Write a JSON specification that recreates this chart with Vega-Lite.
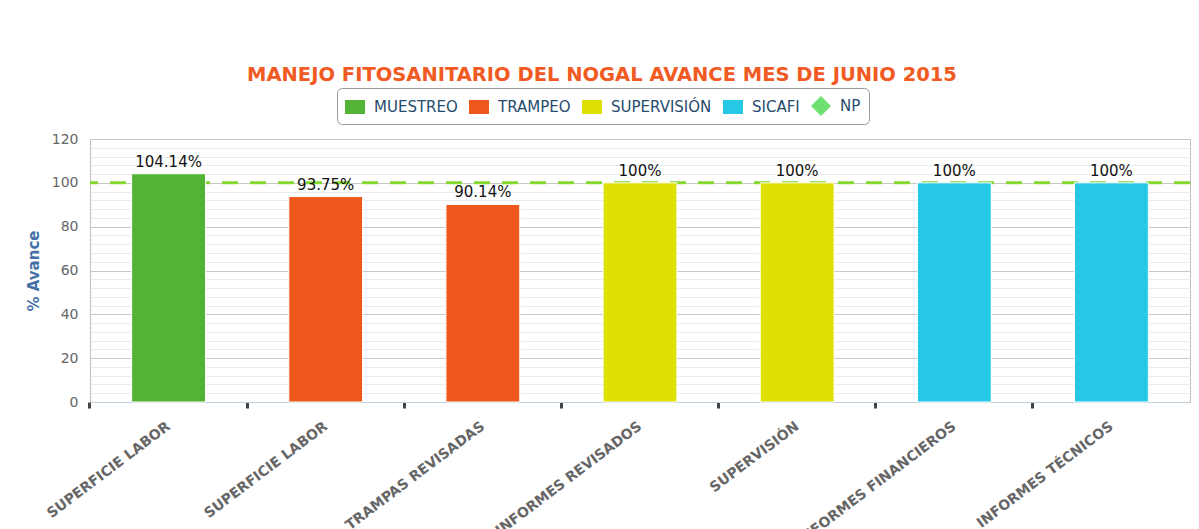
{
  "$schema": "https://vega.github.io/schema/vega-lite/v6.json",
  "width": 1100,
  "height": 263,
  "autosize": {"type": "none"},
  "padding": {"left": 90, "top": 139, "right": 9, "bottom": 127},
  "background": "white",
  "title": {
    "text": "MANEJO FITOSANITARIO DEL NOGAL AVANCE MES DE JUNIO 2015",
    "anchor": "middle",
    "dx": -38,
    "offset": 2,
    "font": "DejaVu Sans",
    "fontSize": 19.5,
    "fontWeight": "bold",
    "color": "#F15A22"
  },
  "datasets": {
    "barras": [
      {"categoria": "SUPERFICIE LABOR", "serie": "MUESTREO", "valor": 104.14, "etiqueta": "104.14%"},
      {"categoria": "SUPERFICIE LABOR ", "serie": "TRAMPEO", "valor": 93.75, "etiqueta": "93.75%"},
      {"categoria": "TRAMPAS REVISADAS", "serie": "TRAMPEO", "valor": 90.14, "etiqueta": "90.14%"},
      {"categoria": "INFORMES REVISADOS", "serie": "SUPERVISIÓN", "valor": 100, "etiqueta": "100%"},
      {"categoria": "SUPERVISIÓN", "serie": "SUPERVISIÓN", "valor": 100, "etiqueta": "100%"},
      {"categoria": "INFORMES FINANCIEROS", "serie": "SICAFI", "valor": 100, "etiqueta": "100%"},
      {"categoria": "INFORMES TÉCNICOS", "serie": "SICAFI", "valor": 100, "etiqueta": "100%"}
    ],
    "np": [
      {"serie": "NP", "valor": 100}
    ]
  },
  "layer": [
    {
      "data": {"name": "np"},
      "mark": {"type": "rule", "color": "#82D82E", "strokeWidth": 3, "strokeDash": [16, 12]},
      "encoding": {
        "y": {
          "field": "valor",
          "type": "quantitative",
          "scale": {"domain": [0, 120], "nice": false},
          "axis": {
            "orient": "right",
            "values": [4, 8, 12, 16, 24, 28, 32, 36, 44, 48, 52, 56, 64, 68, 72, 76, 84, 88, 92, 96, 104, 108, 112, 116],
            "grid": true,
            "gridColor": "#EBEBEB",
            "gridWidth": 1,
            "labels": false,
            "ticks": false,
            "domain": false,
            "title": null
          }
        }
      }
    },
    {
      "data": {"name": "barras"},
      "mark": {"type": "bar", "stroke": "white", "strokeWidth": 1},
      "encoding": {
        "x": {
          "field": "categoria",
          "type": "nominal",
          "sort": null,
          "scale": {"paddingInner": 0.53, "paddingOuter": 0.265},
          "axis": {
            "title": null,
            "grid": false,
            "labelAngle": -37,
            "labelAlign": "right",
            "labelBaseline": "top",
            "labelFont": "DejaVu Sans",
            "labelFontSize": 14,
            "labelFontWeight": "bold",
            "labelColor": "#666666",
            "labelLimit": 400,
            "labelOverlap": false,
            "labelBound": false,
            "labelPadding": 11,
            "labelOffset": -4,
            "bandPosition": -0.564,
            "domainColor": "#C0D0E0",
            "domainWidth": 1,
            "tickColor": "#444444",
            "tickWidth": 3,
            "tickSize": 6
          }
        },
        "y": {
          "field": "valor",
          "type": "quantitative",
          "scale": {"domain": [0, 120], "nice": false},
          "axis": {
            "orient": "left",
            "values": [0, 20, 40, 60, 80, 100, 120],
            "title": "% Avance",
            "titleFont": "DejaVu Sans",
            "titleFontSize": 15,
            "titleFontWeight": "bold",
            "titleColor": "#4572A7",
            "titlePadding": 10,
            "labelFont": "DejaVu Sans",
            "labelFontSize": 14,
            "labelColor": "#666666",
            "labelPadding": 12,
            "ticks": false,
            "domain": false,
            "grid": true,
            "gridColor": "#C8C8C8",
            "gridWidth": 1
          }
        },
        "color": {
          "field": "serie",
          "type": "nominal",
          "scale": {
            "domain": ["MUESTREO", "TRAMPEO", "SUPERVISIÓN", "SICAFI", "NP"],
            "range": ["#52B334", "#EE581D", "#DDE000", "#26C9E5", "#6DE070"]
          }
        }
      }
    },
    {
      "data": {"name": "np"},
      "mark": {"type": "point", "filled": true, "opacity": 0},
      "encoding": {
        "y": {"field": "valor", "type": "quantitative", "axis": null},
        "color": {
          "field": "serie",
          "type": "nominal",
          "legend": {
            "orient": "none",
            "legendX": 247,
            "legendY": -51,
            "direction": "horizontal",
            "title": null,
            "labelFont": "DejaVu Sans",
            "labelFontSize": 15,
            "labelColor": "#274B6D",
            "symbolSize": 400,
            "symbolStrokeWidth": 0,
            "symbolOpacity": 1,
            "labelOffset": 9,
            "columnPadding": 11,
            "padding": 8,
            "strokeColor": "#999999",
            "fillColor": "white",
            "cornerRadius": 5
          }
        },
        "shape": {
          "field": "serie",
          "type": "nominal",
          "scale": {
            "domain": ["MUESTREO", "TRAMPEO", "SUPERVISIÓN", "SICAFI", "NP"],
            "range": ["M-1,-0.7H1V0.7H-1Z", "M-1,-0.7H1V0.7H-1Z", "M-1,-0.7H1V0.7H-1Z", "M-1,-0.7H1V0.7H-1Z", "diamond"]
          },
          "legend": {
            "orient": "none",
            "legendX": 247,
            "legendY": -51,
            "direction": "horizontal",
            "title": null,
            "labelFont": "DejaVu Sans",
            "labelFontSize": 15,
            "labelColor": "#274B6D",
            "symbolSize": 400,
            "symbolStrokeWidth": 0,
            "symbolOpacity": 1,
            "labelOffset": 9,
            "columnPadding": 11,
            "padding": 8,
            "strokeColor": "#999999",
            "fillColor": "white",
            "cornerRadius": 5
          }
        }
      }
    },
    {
      "data": {"name": "barras"},
      "mark": {"type": "text", "dy": -7, "baseline": "alphabetic", "font": "DejaVu Sans", "fontSize": 15, "color": "#111111"},
      "encoding": {
        "x": {"field": "categoria", "type": "nominal", "sort": null},
        "y": {"field": "valor", "type": "quantitative", "axis": null},
        "text": {"field": "etiqueta"}
      }
    }
  ],
  "resolve": {"axis": {"y": "independent"}},
  "config": {
    "font": "DejaVu Sans",
    "view": {"stroke": "#C0C0C0", "strokeWidth": 1}
  }
}
